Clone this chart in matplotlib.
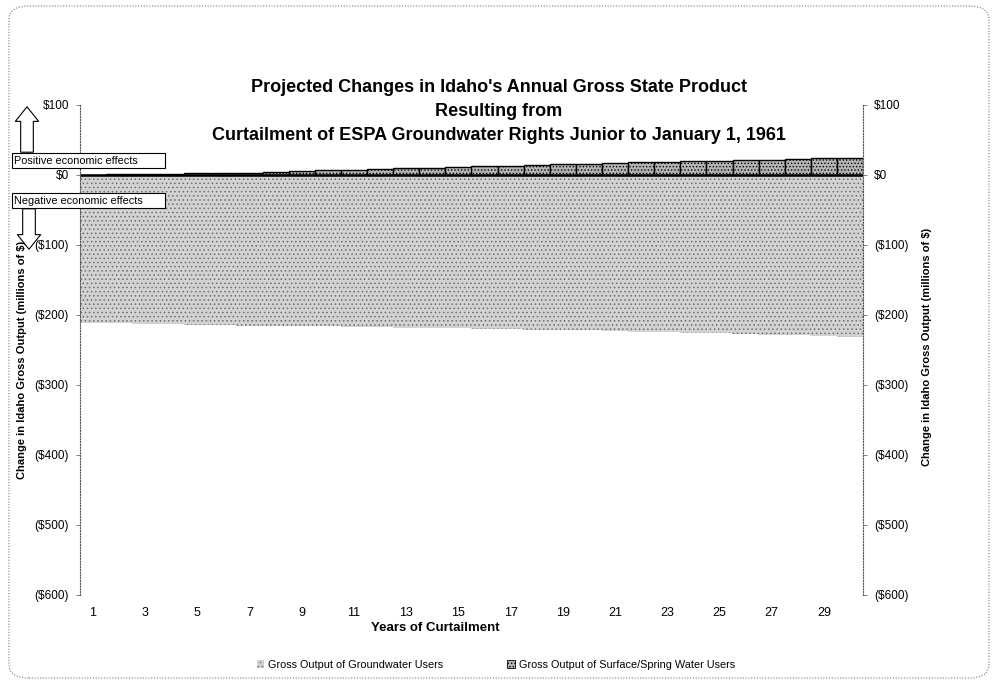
import numpy as np
import matplotlib.pyplot as plt
from matplotlib.patches import FancyArrowPatch, FancyBboxPatch, Rectangle, Patch

plt.rcParams['font.family'] = ['Liberation Sans', 'DejaVu Sans']
plt.rcParams['hatch.linewidth'] = 0.6

years = np.arange(1, 31)
groundwater = [-212, -212, -213, -213, -214, -214, -215, -215, -216, -216,
               -217, -217, -218, -219, -219, -220, -220, -221, -222, -222,
               -223, -224, -224, -225, -226, -227, -228, -229, -230, -231]
surface = [0.5, 1, 1.5, 2, 2.5, 3, 3.5, 4.5, 5.5, 6.5,
           7.5, 8.5, 9.5, 10.5, 11.5, 12.5, 13.5, 14.5, 15.5, 16,
           17, 18, 19, 19.5, 20.5, 21, 22, 23, 24, 25]
yticks = [100, 0, -100, -200, -300, -400, -500, -600]
ylabels = ['$100', '$0', '($100)', '($200)', '($300)', '($400)', '($500)', '($600)']

W, H = 997, 684
fig = plt.figure(figsize=(W / 100, H / 100), dpi=100)
ax = fig.add_axes([80 / W, 1 - 595 / H, 783 / W, 490 / H])

# bars (slightly overlapping so no seams show between the stippled bars)
ax.bar(years, groundwater, width=1.03, color='#d2d2d2', edgecolor='#6e6e6e',
       hatch='....', linewidth=0)
ax.bar(years, surface, width=1.0, color='#b4b4b4', edgecolor='black',
       hatch='.....', linewidth=1.0)
ax.axhline(0, color='black', linewidth=1.8)

ax.set_xlim(0.5, 30.5)
ax.set_ylim(-600, 100)
ax.set_yticks(yticks)
ax.set_yticklabels(ylabels, fontsize=8.5)
ax.set_xticks(years[::2])
ax.set_xticklabels([str(y) for y in years[::2]], fontsize=9)
ax.tick_params(axis='x', length=0, pad=9)
ax.tick_params(axis='y', length=3, width=0.6, color='#666666', pad=5)
for s in ['top', 'bottom']:
    ax.spines[s].set_visible(False)
for s in ['left', 'right']:
    ax.spines[s].set_linestyle((0, (1, 1.5)))
    ax.spines[s].set_linewidth(0.8)
    ax.spines[s].set_color('#555555')

ax.set_xlabel('Years of Curtailment', fontsize=9.5, fontweight='bold')
ax.xaxis.set_label_coords((435 - 80) / 783, -0.055)
ax.set_ylabel('Change in Idaho Gross Output (millions of $)', fontsize=8,
              fontweight='bold')
ax.yaxis.set_label_coords(-0.0675, 0.48)

ax2 = ax.twinx()
ax2.set_ylim(-600, 100)
ax2.set_yticks(yticks)
ax2.set_yticklabels(ylabels, fontsize=8.5)
ax2.tick_params(axis='y', length=3, width=0.6, color='#666666', pad=5)
for s in ['top', 'bottom', 'left', 'right']:
    ax2.spines[s].set_visible(False)
ax2.set_ylabel('Change in Idaho Gross Output (millions of $)', fontsize=8,
               fontweight='bold')
ax2.yaxis.set_label_coords(1.075, 0.506)

# title
fig.text(0.5, 1 - 88 / H, "Projected Changes in Idaho's Annual Gross State Product",
         ha='center', va='center', fontsize=13, fontweight='bold')
fig.text(0.5, 1 - 111 / H, 'Resulting from', ha='center', va='center',
         fontsize=13, fontweight='bold')
fig.text(0.5, 1 - 135 / H, 'Curtailment of ESPA Groundwater Rights Junior to January 1, 1961',
         ha='center', va='center', fontsize=13, fontweight='bold')

# arrows and effect boxes
arrow_style = 'simple,head_length=0.75,head_width=1.2,tail_width=0.65'
fig.patches.append(FancyArrowPatch((27 / W, 1 - 155 / H), (27 / W, 1 - 104 / H),
                                   transform=fig.transFigure, arrowstyle=arrow_style,
                                   mutation_scale=14, facecolor='white',
                                   edgecolor='black', linewidth=0.8))
fig.patches.append(FancyArrowPatch((29 / W, 1 - 206 / H), (29 / W, 1 - 252 / H),
                                   transform=fig.transFigure, arrowstyle=arrow_style,
                                   mutation_scale=14, facecolor='white',
                                   edgecolor='black', linewidth=0.8))
for y0, txt in [(153, 'Positive economic effects'), (193, 'Negative economic effects')]:
    fig.patches.append(Rectangle((12 / W, 1 - (y0 + 15) / H), 153 / W, 15 / H,
                                 transform=fig.transFigure, facecolor='white',
                                 edgecolor='black', linewidth=0.8))
    fig.text(14 / W, 1 - (y0 + 7.5) / H, txt, ha='left', va='center', fontsize=7.8)

# legend
handles = [Patch(facecolor='#d2d2d2', edgecolor='#6e6e6e', hatch='....', linewidth=0),
           Patch(facecolor='#b4b4b4', edgecolor='black', hatch='.....', linewidth=0.6)]
fig.legend(handles, ['Gross Output of Groundwater Users',
                     'Gross Output of Surface/Spring Water Users'],
           loc='center', bbox_to_anchor=(0.4975, 1 - 665 / H), ncol=2, frameon=False,
           fontsize=7.8, handlelength=0.7, handleheight=0.7, columnspacing=5.9,
           handletextpad=0.4)

# outer frame
fig.patches.append(FancyBboxPatch((9 / W, 6 / H), 980 / W, 672 / H,
                                  boxstyle='round,pad=0,rounding_size=0.02',
                                  transform=fig.transFigure, fill=False,
                                  edgecolor='#777777', linewidth=0.8,
                                  linestyle=(0, (1, 1.5))))

fig.savefig('out.png', dpi=100)
